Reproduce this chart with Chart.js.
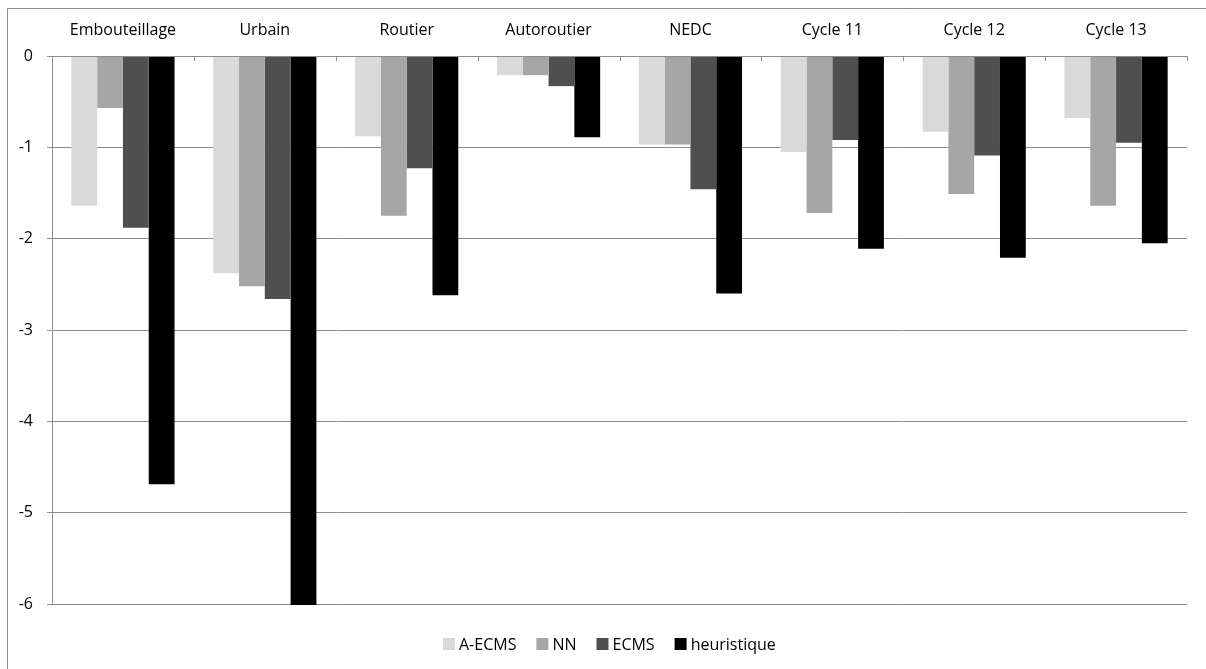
<!DOCTYPE html>
<html>
<head>
<meta charset="utf-8">
<script src="https://cdn.jsdelivr.net/npm/chart.js@4"></script>
<style>
html,body{margin:0;padding:0;background:#fff;}
#wrap{width:1206px;height:669px;position:relative;}
</style>
</head>
<body>
<div id="wrap"><canvas id="c" width="1206" height="669"></canvas></div>
<script>
const categories = ["Embouteillage","Urbain","Routier","Autoroutier","NEDC","Cycle 11","Cycle 12","Cycle 13"];
const seriesNames = ["A-ECMS","NN","ECMS","heuristique"];
const aEcms = [-1.64,-2.38,-0.88,-0.21,-0.97,-1.05,-0.83,-0.68];
const nn = [-0.57,-2.52,-1.75,-0.21,-0.97,-1.72,-1.51,-1.64];
const ecms = [-1.88,-2.66,-1.23,-0.33,-1.46,-0.92,-1.09,-0.95];
const heuristique = [-4.69,-6.01,-2.62,-0.89,-2.60,-2.11,-2.21,-2.05];
const yTicks = [0,-1,-2,-3,-4,-5,-6];

const colors = ["#D9D9D9","#A6A6A6","#4F4F4F","#000000"];
const FONT = "'Open Sans', 'Noto Sans', sans-serif";
const GRID = "#8C8C8C";

const frame = {
  id:'frame',
  beforeDraw(chart){
    const ctx = chart.ctx;
    ctx.save();
    ctx.strokeStyle = GRID;
    ctx.lineWidth = 1;
    ctx.beginPath();
    ctx.moveTo(7.5, 700); ctx.lineTo(7.5, 8.5); ctx.lineTo(1300, 8.5);
    ctx.stroke();
    ctx.restore();
  },
  afterDatasetsDraw(chart){
    const ctx = chart.ctx, x = chart.scales.x, a = chart.chartArea;
    ctx.save();
    ctx.strokeStyle = GRID;
    ctx.lineWidth = 1;
    ctx.beginPath();
    ctx.moveTo(a.left, Math.round(a.top)+0.5); ctx.lineTo(a.right, Math.round(a.top)+0.5);
    for(let i=0;i<=categories.length;i++){
      const px = Math.round(x.getPixelForValue(i-0.5))+0.5;
      ctx.moveTo(px, a.top); ctx.lineTo(px, a.top+5);
    }
    ctx.stroke();
    ctx.restore();
  },
  afterDraw(chart){
    // legend drawn from dataset labels / colours
    const ctx = chart.ctx, a = chart.chartArea;
    ctx.save();
    ctx.font = "16px " + FONT;
    ctx.textBaseline = 'middle';
    const box = 12, gapText = 4, gapItem = 20;
    const items = chart.data.datasets.map(d => ({label:d.label, color:d.backgroundColor, w: ctx.measureText(d.label).width}));
    const total = items.reduce((s,it)=>s+box+gapText+it.w,0) + gapItem*(items.length-1);
    let x = Math.round((a.left + a.right)/2 - 10 - total/2);
    const cy = a.bottom + 40;
    items.forEach(it=>{
      ctx.fillStyle = it.color;
      ctx.fillRect(x, Math.round(cy - box/2), box, box);
      ctx.fillStyle = '#000';
      ctx.fillText(it.label, x + box + gapText, cy + 1);
      x += box + gapText + it.w + gapItem;
    });
    ctx.restore();
  }
};

new Chart(document.getElementById('c'), {
  type:'bar',
  data:{
    labels: categories,
    datasets: [aEcms, nn, ecms, heuristique].map((d,i)=>({
      label: seriesNames[i],
      data: d,
      backgroundColor: colors[i],
      borderWidth: 0,
      categoryPercentage: 4/5.5,
      barPercentage: 1,
      clip: false
    }))
  },
  options:{
    responsive:false,
    animation:false,
    devicePixelRatio:1,
    layout:{padding:{left:8, top:9, right:19, bottom:65}},
    plugins:{
      tooltip:{enabled:false},
      legend:{display:false}
    },
    scales:{
      x:{
        position:'top',
        grid:{display:false},
        border:{display:false},
        ticks:{font:{family:FONT, size:16}, color:'#000', padding:8, maxRotation:0},
        afterFit(s){ s.height = 47; }
      },
      y:{
        min:-6, max:0,
        afterBuildTicks(s){ s.ticks = yTicks.map(v=>({value:v})); },
        grid:{color:GRID, tickLength:5, drawTicks:true, tickColor:GRID},
        border:{display:true, color:GRID},
        ticks:{font:{family:FONT, size:16}, color:'#000', padding:14},
        afterFit(s){ s.width = 44; }
      }
    }
  },
  plugins:[frame]
});
</script>
</body>
</html>
